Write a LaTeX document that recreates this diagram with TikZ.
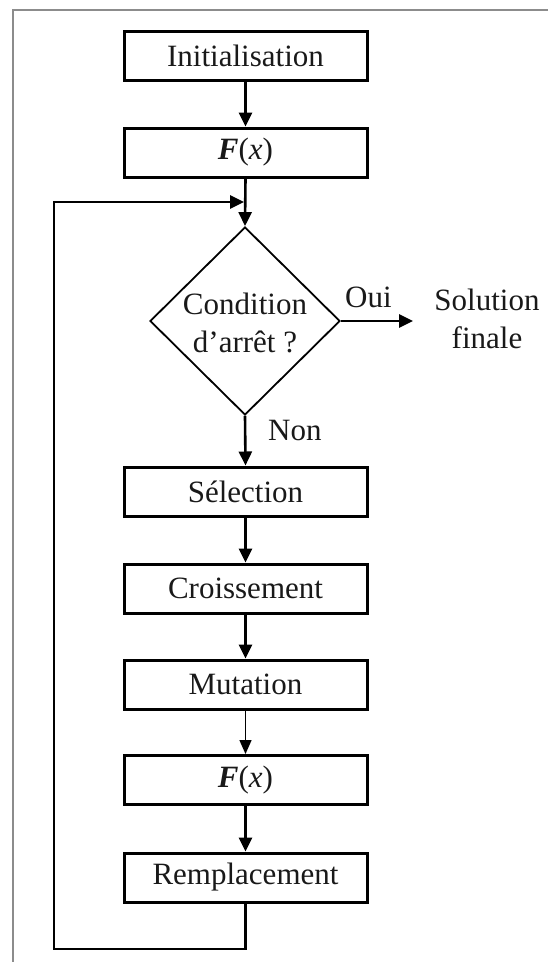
\documentclass[tikz,border=0pt]{standalone}
\usepackage{fontspec}
\setmainfont{Liberation Serif}
\usetikzlibrary{shapes.geometric,arrows.meta}
\tikzset{
  lbl/.style={font=\fontsize{31}{38}\selectfont, text=black!90, inner sep=0pt},
  stepbox/.style={lbl, draw=black, line width=3pt, minimum width=243pt, minimum height=49pt},
  conn/.style={line width=2.6pt, -{Triangle[length=14pt,width=13pt]}},
  thinconn/.style={line width=1.4pt, -{Triangle[length=14pt,width=12pt]}},
  frameline/.style={draw=black!45, line width=2pt}
}
\begin{document}
\begin{tikzpicture}[x=1pt,y=-1pt]
\useasboundingbox (0,0) rectangle (548,962);
\draw[frameline] (13,962) -- (13,10) -- (548,10);

\node[stepbox] (init) at (245.5,55.5) {Initialisation};
\node[stepbox] (f1) at (245.5,152.5) {\textbf{\textit{F}}(\textit{x})};
\node[diamond, draw=black, line width=1.8pt, minimum width=190pt, minimum height=188pt, inner sep=0pt] (dec) at (245,321) {};
\node[lbl, align=center] (dectext) at (245,323) {Condition\\d’arrêt ?};
\node[lbl, align=center] (sol) at (487,319) {Solution\\finale};
\node[lbl, anchor=base west] (oui) at (345,307) {Oui};
\node[lbl, anchor=base west] (non) at (268,440) {Non};
\node[stepbox] (sel) at (245.5,491.5) {Sélection};
\node[stepbox] (cro) at (245.5,588.5) {Croissement};
\node[stepbox] (mut) at (245.5,684.5) {Mutation};
\node[stepbox] (f2) at (245.5,780) {\textbf{\textit{F}}(\textit{x})};
\node[stepbox] (rem) at (245.5,877.5) {Remplacement};

\coordinate (lb) at (54,949);
\coordinate (lt) at (54,202);
\coordinate (join) at (244,202);
\coordinate (solin) at (413,321);

\draw[conn] (init.south) -- (f1.north);
\draw[conn] (f1.south) -- (dec.north);
\draw[conn] (rem.south) |- (lb) -- (lt) -- (join);
\draw[conn] (dec.east) -- (solin);
\draw[conn] (dec.south) -- (sel.north);
\draw[conn] (sel.south) -- (cro.north);
\draw[conn] (cro.south) -- (mut.north);
\draw[thinconn] (mut.south) -- (f2.north);
\draw[conn] (f2.south) -- (rem.north);
\end{tikzpicture}
\end{document}
